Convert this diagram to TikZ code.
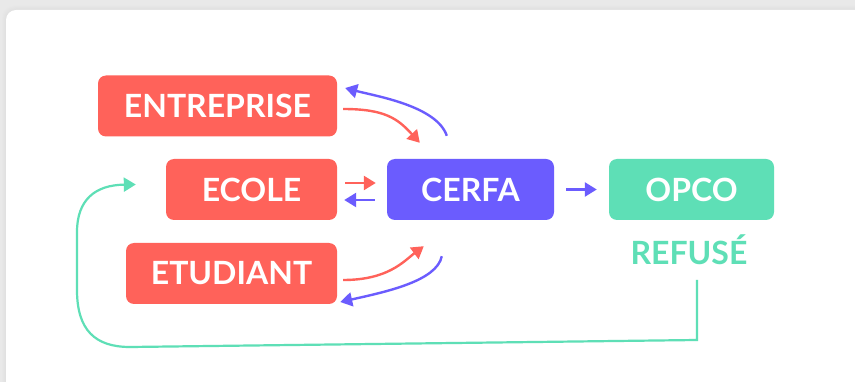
\documentclass[tikz,border=0pt]{standalone}
\usepackage{fontspec}
\setmainfont{Lato}
\usetikzlibrary{arrows.meta,calc}
\definecolor{cred}{HTML}{FF625A}
\definecolor{cpurple}{HTML}{6B5CFE}
\definecolor{cgreen}{HTML}{5EDFB6}
\definecolor{cbg}{HTML}{E9E9E9}
\tikzset{
  lbl/.style={font=\fontsize{32}{34}\selectfont\bfseries},
  box/.style={lbl, rounded corners=8pt, minimum height=61pt, inner sep=0pt, text=white},
  redbox/.style={box, fill=cred},
  conn/.style={line width=2.4pt, -{Triangle[length=12pt,width=14pt]}},
}
\begin{document}
\begin{tikzpicture}[x=1pt,y=-1pt]
\useasboundingbox (0,0) rectangle (855,382);
\fill[cbg] (0,0) rectangle (855,382);
\foreach \o/\a in {4/0.15,3/0.25,2/0.4,1/0.6}{
  \fill[black!12, opacity=\a, rounded corners=12pt] (6-\o,10-\o) rectangle (880,400);
}
\fill[white, rounded corners=10pt] (6,10) rectangle (880,400);

\node[redbox, minimum width=239pt] (ent) at (217.5,106) {ENTREPRISE};
\node[redbox, minimum width=171pt] (eco) at (251.5,189.5) {ECOLE};
\node[redbox, minimum width=211pt] (etu) at (231.5,273.5) {ETUDIANT};
\node[box, fill=cpurple, minimum width=167pt] (cer) at (470.5,189.5) {CERFA};
\node[box, fill=cgreen, minimum width=165pt] (opc) at (691.5,189.5) {OPCO};
\node[lbl, text=cgreen, inner sep=0pt] (ref) at (689,250) {REFUSÉ};
\coordinate (gstart) at (697,280);

% ENTREPRISE <-> CERFA
\draw[conn, cred] ($(ent.east)+(6,3)$) .. controls +(42,0) and +(-22,-24) .. ($(cer.north west)+(33,-16)$);
\draw[conn, cpurple] ($(cer.north west)+(60,-23)$) .. controls +(-10,-30) and +(30,8) .. ($(ent.east)+(8,-18)$);
% ECOLE <-> CERFA
\draw[conn, cred] ($(eco.east)+(8,-6.5)$) -- ($(cer.west)+(-11,-6.5)$);
\draw[conn, cpurple] ($(cer.west)+(-12,10.5)$) -- ($(eco.east)+(7,10.5)$);
% ETUDIANT <-> CERFA
\draw[conn, cred] ($(etu.east)+(6,6.5)$) .. controls +(45,0) and +(-20,15) .. ($(cer.south west)+(37,26)$);
\draw[conn, cpurple] ($(cer.south west)+(55,36)$) .. controls +(-5,25) and +(45,-10) .. ($(etu.east)+(3,28.5)$);
% CERFA -> OPCO
\draw[conn, cpurple] ($(cer.east)+(12,0)$) -- ($(opc.west)+(-12,0)$);
% REFUSE -> ECOLE
\draw[conn, cgreen, line width=2.2pt] (gstart) -- (697,340) -- (130,347)
  .. controls (95,347) and (77,330) .. (77,290) -- (77,232)
  .. controls (77,200) and (95,185) .. ($(eco.west)+(-30,-5)$);
\end{tikzpicture}
\end{document}
